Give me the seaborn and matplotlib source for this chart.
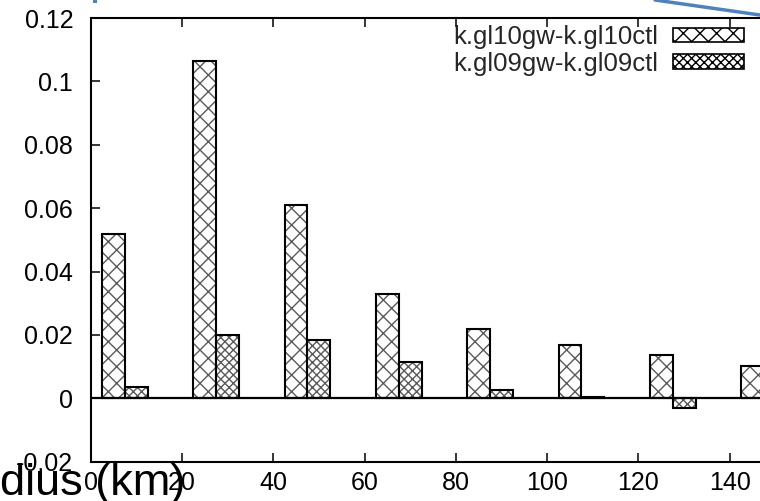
import numpy as np
import pandas as pd
import matplotlib
matplotlib.use("Agg")
import matplotlib.pyplot as plt
import matplotlib.patches as mpatches
from matplotlib.lines import Line2D
import seaborn as sns

# ---- data ----
radius = [7.5, 27.5, 47.5, 67.5, 87.5, 107.5, 127.5, 147.5]
gl10 = [0.0517, 0.1063, 0.0609, 0.0328, 0.0218, 0.0168, 0.0137, 0.0101]
gl09 = [0.0036, 0.0200, 0.0183, 0.0116, 0.0026, 0.0005, -0.0031, np.nan]
series_names = ["k.gl10gw-k.gl10ctl", "k.gl09gw-k.gl09ctl"]
xticks = [0, 20, 40, 60, 80, 100, 120, 140]
yticks = [-0.02, 0, 0.02, 0.04, 0.06, 0.08, 0.1, 0.12]
ytick_labels = ["-0.02", "0", "0.02", "0.04", "0.06", "0.08", "0.1", "0.12"]
hatches = ["xx", "xxxx"]

df = pd.DataFrame({
    "radius": radius * 2,
    "value": gl10 + gl09,
    "series": [series_names[0]] * len(radius) + [series_names[1]] * len(radius),
})

sns.set_style("ticks")
plt.rcParams["font.family"] = ["Liberation Sans", "DejaVu Sans"]
plt.rcParams["hatch.linewidth"] = 1.0

W, H = 760, 501
fig = plt.figure(figsize=(W / 100, H / 100), dpi=100)
ax = fig.add_axes([90.6 / W, (H - 461.7) / H, (775.4 - 90.6) / W, (461.7 - 18) / H])

sns.barplot(data=df, x="radius", y="value", hue="series", hue_order=series_names,
            native_scale=True, width=0.5, dodge=True, errorbar=None,
            palette=["white", "white"], legend=False, ax=ax, zorder=2)

# hatch + outline
bars = [p for p in ax.patches if isinstance(p, mpatches.Rectangle)]
n = len(radius)
for i, p in enumerate(bars):
    h = hatches[0] if i < n else hatches[1]
    p.set_hatch(h)
    p.set_edgecolor("#5a5a5a")
    p.set_linewidth(0)
    if np.isfinite(p.get_height()):
        ax.add_patch(mpatches.Rectangle(p.get_xy(), p.get_width(), p.get_height(),
                                        fill=False, edgecolor="black", lw=1.5, zorder=3))

ax.axhline(0, color="black", lw=1.6, zorder=4)

ax.set_xlim(0, 150)
ax.set_ylim(-0.02, 0.12)
ax.set_xticks(xticks)
ax.set_xticklabels([str(t) for t in xticks])
ax.set_yticks(yticks)
ax.set_yticklabels(ytick_labels)
ax.set_xlabel("")
ax.set_ylabel("")

for s in ax.spines.values():
    s.set_visible(True)
    s.set_linewidth(1.5)
    s.set_color("black")

ax.tick_params(axis="both", direction="in", length=6.5, width=1.1, top=True, right=True,
               labelsize=18, colors="black")
ax.tick_params(axis="x", pad=7)
ax.tick_params(axis="y", pad=12.5)

# legend (gnuplot style: text then sample)
handles = [mpatches.Patch(facecolor="white", edgecolor="black", hatch=hatches[k], lw=1.2)
           for k in range(2)]
leg = fig.legend(handles, series_names, loc="upper right",
                 bbox_to_anchor=(744 / W, 1 - 25 / H), bbox_transform=fig.transFigure,
                 frameon=False, markerfirst=False, fontsize=18.5,
                 handlelength=2.75, handleheight=0.5, handletextpad=0.6,
                 labelspacing=0.1, borderpad=0, borderaxespad=0)

# slide overlay elements
fig.add_artist(Line2D([655 / W, 1.0], [1.0, 1 - 15 / H], transform=fig.transFigure,
                      color="#4f81bd", lw=2.5))
fig.add_artist(mpatches.Rectangle((93 / W, 1 - 3 / H), 4 / W, 3 / H, transform=fig.transFigure,
                                  color="#4f81bd", lw=0))
fig.text(0 / W, 6 / H, "dius (km)", fontsize=32.5, ha="left", va="baseline", color="black")

fig.savefig("out.png", dpi=100)
